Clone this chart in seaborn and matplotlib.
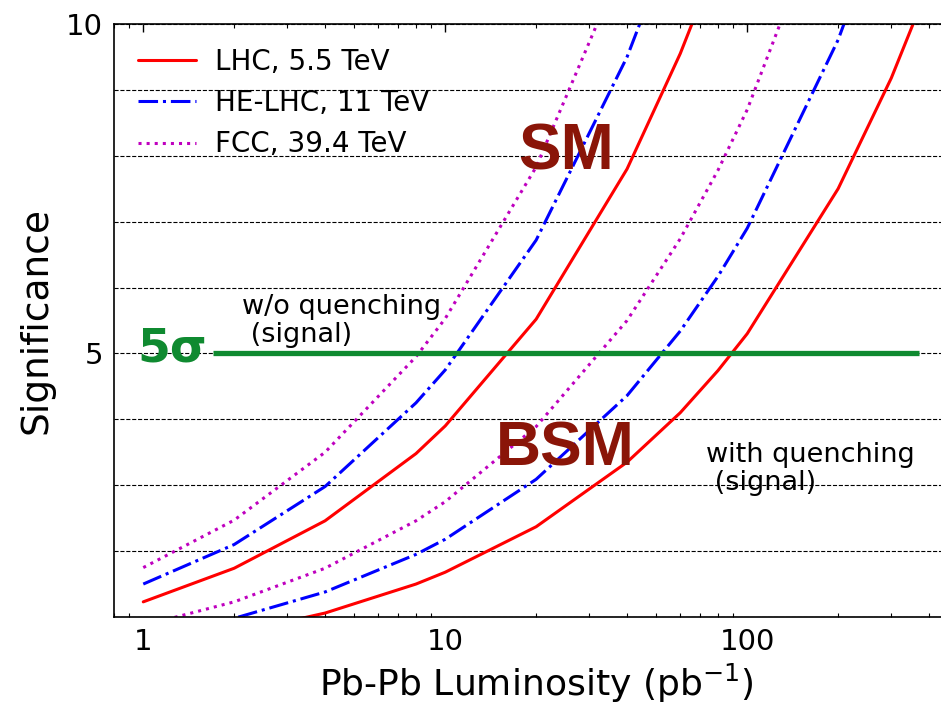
import matplotlib
matplotlib.use("Agg")
import matplotlib.pyplot as plt
import matplotlib.ticker as mticker
import pandas as pd
import seaborn as sns

# Integrated Pb-Pb luminosity points (pb^-1)
lumi = [1, 2, 4, 8, 10, 20, 40, 60, 80, 100, 200, 300, 400, 500]

# Significance, SM case (w/o quenching of the signal)
lhc_sm = [1.23, 1.74, 2.46, 3.48, 3.90, 5.52, 7.80, 9.55, 11.0, 12.3, 17.4, 21.3, 24.6, 27.5]
helhc_sm = [1.50, 2.10, 2.98, 4.25, 4.75, 6.72, 9.50, 11.6, 13.4, 15.0, 21.2, 26.0, 30.0, 33.5]
fcc_sm = [1.75, 2.47, 3.50, 4.95, 5.53, 7.83, 11.07, 13.6, 15.7, 17.5, 24.7, 30.3, 35.0, 39.1]

# Significance, BSM case (with quenching of the signal)
lhc_bsm = [0.53, 0.75, 1.06, 1.50, 1.68, 2.37, 3.35, 4.10, 4.74, 5.30, 7.50, 9.18, 10.6, 11.85]
helhc_bsm = [0.69, 0.98, 1.38, 1.95, 2.18, 3.09, 4.36, 5.34, 6.17, 6.90, 9.76, 11.95, 13.8, 15.4]
fcc_bsm = [0.87, 1.23, 1.74, 2.46, 2.75, 3.89, 5.50, 6.74, 7.78, 8.70, 12.3, 15.1, 17.4, 19.5]

colliders = ["LHC, 5.5 TeV", "HE-LHC, 11 TeV", "FCC, 39.4 TeV"]
colors = ["#ff0000", "#0000ff", "#bf00bf"]
styles = ["-", "-.", ":"]

# 5 sigma discovery threshold
sigma5_level = 5.0
sigma5_x = [1.7, 370]

sns.set_style("white")
plt.rcParams["font.family"] = ["DejaVu Sans"]
plt.rcParams["mathtext.fontset"] = "dejavusans"
for key in ["text.color", "axes.labelcolor", "xtick.color", "ytick.color"]:
    plt.rcParams[key] = "black"

fig = plt.figure(figsize=(9.41, 7.05), dpi=100)
ax = fig.add_axes([114 / 941, 88 / 705, 844.3 / 941, 593 / 705])

sm_sets = [lhc_sm, helhc_sm, fcc_sm]
bsm_sets = [lhc_bsm, helhc_bsm, fcc_bsm]
for name, col, ls, sm, bsm in zip(colliders, colors, styles, sm_sets, bsm_sets):
    df = pd.DataFrame({"L": lumi, "SM": sm, "BSM": bsm})
    sns.lineplot(data=df, x="L", y="SM", ax=ax, color=col, linestyle=ls,
                 linewidth=2.2, label=name, errorbar=None, sort=False)
    sns.lineplot(data=df, x="L", y="BSM", ax=ax, color=col, linestyle=ls,
                 linewidth=2.2, label="_nolegend_", errorbar=None, sort=False)

ax.hlines(sigma5_level, sigma5_x[0], sigma5_x[1], color="#0f8a30",
          linewidth=3.8, zorder=4)

ax.set_xscale("log")
ax.set_xlim(0.8, 500)
ax.set_ylim(1, 10)
ax.set_yticks([5, 10])
ax.yaxis.set_minor_locator(mticker.MultipleLocator(1))
ax.xaxis.set_major_formatter(mticker.FuncFormatter(lambda v, p: f"{v:g}"))
ax.xaxis.set_minor_formatter(mticker.NullFormatter())

ax.grid(False)
ax.grid(True, which="major", axis="y", linestyle="--", color="black", linewidth=0.8)
ax.grid(True, which="minor", axis="y", linestyle="--", color="black", linewidth=0.8)

ax.tick_params(axis="both", which="major", direction="in", labelsize=21,
               length=5.5, width=1.0, color="black", labelcolor="black",
               top=True, right=True, pad=8)
ax.tick_params(axis="x", which="minor", direction="in", length=3, width=0.8,
               top=True, bottom=True)
ax.tick_params(axis="y", which="minor", length=0)
for sp in ax.spines.values():
    sp.set_color("black")
    sp.set_linewidth(1.2)

ax.set_xlabel("Pb-Pb Luminosity (pb$^{-1}$)", fontsize=26, labelpad=4,
              color="black")
ax.set_ylabel("Significance", fontsize=27, labelpad=8, color="black")

leg = ax.legend(loc="upper left", frameon=False, fontsize=20,
                handlelength=2.1, handletextpad=0.7, labelspacing=0.48,
                borderaxespad=0.45)
for t in leg.get_texts():
    t.set_color("black")

ax.text(2.12, 5.5, "w/o quenching\n (signal)", fontsize=19.5, ha="left",
        va="center", linespacing=1.1)
ax.text(72.9, 3.25, "with quenching\n (signal)", fontsize=19.5, ha="left",
        va="center", linespacing=1.1)

ax.text(25.1, 8.05, "SM", fontsize=46, fontweight="bold", color="#8a1508",
        family="Liberation Sans", ha="center", va="center", zorder=5)
ax.text(25.0, 3.55, "BSM", fontsize=45, fontweight="bold", color="#8a1508",
        family="Liberation Sans", ha="center", va="center", zorder=5)
ax.text(1.25, 5.06, "5σ", fontsize=34, fontweight="bold", color="#0f8a30",
        ha="center", va="center", zorder=5)

fig.savefig("out.png", dpi=100)
